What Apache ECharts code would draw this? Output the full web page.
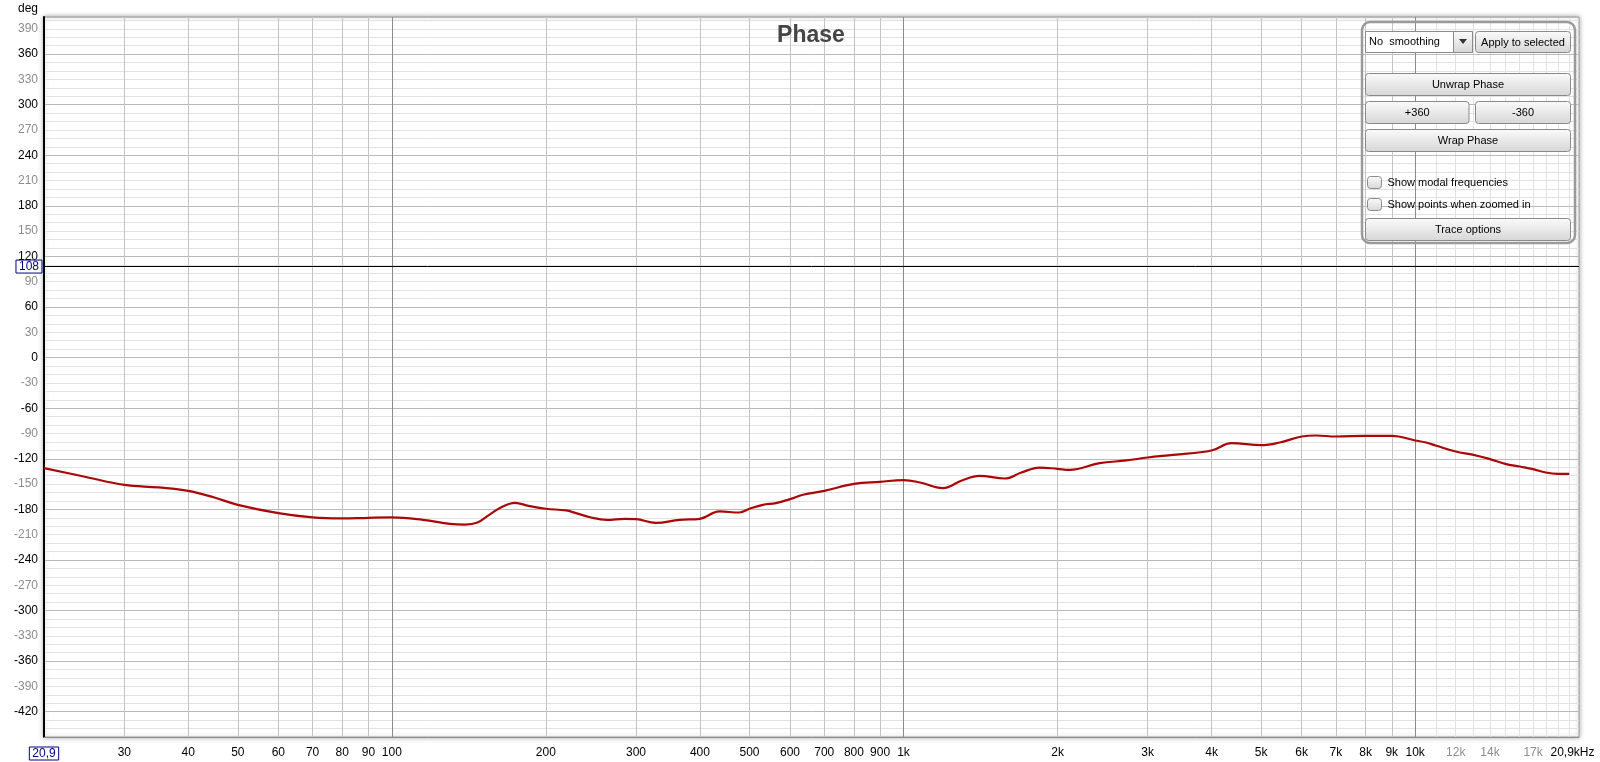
<!DOCTYPE html>
<html><head><meta charset="utf-8">
<script src="https://cdn.jsdelivr.net/npm/echarts@6/dist/echarts.min.js"></script>
<style>html,body{margin:0;padding:0;background:#fff;overflow:hidden}#c{width:1600px;height:762px}</style>
</head><body><div id="c"></div>
<script>
// ---- data ----
const freqs = [20.9, 25, 30, 35, 40, 45, 50, 60, 70, 80, 90, 100, 115, 130, 139, 147, 155, 163, 174, 185, 200, 219, 229, 245, 263, 285, 300, 328, 365, 400, 437, 478, 500, 531, 563, 600, 636, 700, 800, 900, 1000, 1077, 1194, 1300, 1408, 1576, 1700, 1844, 2000, 2110, 2416, 2727, 3000, 3365, 4000, 4375, 5000, 5434, 6000, 6409, 7000, 8000, 9000, 10000, 10500, 11000, 12000, 13000, 14000, 15000, 16000, 17000, 18000, 19000, 20000];
const phaseDeg = [-131, -141, -151, -154, -158, -166, -174.6, -184.5, -189.6, -190.8, -190, -189.6, -192.4, -197.2, -198, -195.6, -186.5, -178, -172.2, -175.8, -179.3, -181.3, -184.5, -189.6, -192.4, -191.2, -191.6, -196, -192.4, -191.2, -182.5, -183.7, -179.3, -174.6, -172.6, -167.9, -162.7, -158, -149.7, -147.3, -145.3, -148.1, -154.8, -145.7, -140.2, -143.4, -136.3, -130.4, -131.9, -133.1, -125.2, -122, -118.5, -115.3, -110.2, -101.4, -103.8, -100.7, -93.6, -92.4, -93.6, -92.8, -92.8, -98.3, -100.7, -104.6, -111.4, -115.3, -120.4, -126, -129.2, -132.3, -136.3, -137.8, -137.8];
const xTickValues = [20.9, 30, 40, 50, 60, 70, 80, 90, 100, 200, 300, 400, 500, 600, 700, 800, 900, 1000, 2000, 3000, 4000, 5000, 6000, 7000, 8000, 9000, 10000, 12000, 14000, 17000, 20900];
const xTickLabels = ['20,9', '30', '40', '50', '60', '70', '80', '90', '100', '200', '300', '400', '500', '600', '700', '800', '900', '1k', '2k', '3k', '4k', '5k', '6k', '7k', '8k', '9k', '10k', '12k', '14k', '17k', '20,9kHz'];
const fMin = 20.9, fMax = 20900;
const yMin = -450, yMax = 404;
const cursorDeg = 108;
const titleText = 'Phase';
const yUnit = 'deg';

// ---- grid line positions (ticks) ----
const xMinorGrid = [], xDecadeGrid = [100, 1000, 10000], xHighGrid = [];
for (let d = 10; d <= 1000; d *= 10) for (let k = 2; k <= 9; k++) { const v = k * d; if (v > fMin) xMinorGrid.push(v); }
for (let v = 11000; v <= 20000; v += 1000) xHighGrid.push(v);

const FONT = '"Liberation Sans", Arial, sans-serif';

function xLabel(v) {
  let idx = -1;
  for (let i = 0; i < xTickValues.length; i++) if (Math.abs(xTickValues[i] - v) / xTickValues[i] < 1e-6) idx = i;
  if (idx < 0) return '';
  const t = xTickLabels[idx];
  if (idx === 0) return '{cur|' + t + '}';
  if (idx === xTickValues.length - 1) return '{end|' + t + '}';
  if (v > 10000) return '{g|' + t + '}';
  return '{b|' + t + '}';
}
function yLabel(v) {
  if (v % 30 !== 0 || v <= yMin || v > 390) return '';
  return (v % 60 === 0 ? '{b|' : '{g|') + v + '}';
}
function logAxis(extra) {
  return Object.assign({
    type: 'log', logBase: 10, min: fMin, max: fMax, position: 'bottom',
    axisLine: { show: false, onZero: false }, axisTick: { show: false },
    axisLabel: { show: false }, splitLine: { show: false },
    minorTick: { show: false }, minorSplitLine: { show: false }
  }, extra);
}

const btnFill = { type: 'linear', x: 0, y: 0, x2: 0, y2: 1, colorStops: [{ offset: 0, color: '#fbfbfb' }, { offset: 1, color: '#d6d6d6' }] };
function button(x, y, w, h, text) {
  return { type: 'group', x: x, y: y, z: 100, children: [
    { type: 'rect', z: 100, shape: { x: 0, y: 0, width: w, height: h, r: 3 }, style: { fill: btnFill, stroke: '#8a8a8a', lineWidth: 1 } },
    { type: 'text', z: 101, style: { x: w / 2, y: h / 2 + 0.5, text: text, font: '11px ' + FONT, fill: '#000', align: 'center', verticalAlign: 'middle' } }
  ] };
}
function checkbox(x, y, text) {
  return { type: 'group', x: x, y: y, z: 100, children: [
    { type: 'rect', z: 100, shape: { x: 0, y: 0, width: 14, height: 12, r: 3 }, style: { fill: btnFill, stroke: '#8a8a8a', lineWidth: 1 } },
    { type: 'text', z: 101, style: { x: 20, y: 6, text: text, font: '11px ' + FONT, fill: '#000', align: 'left', verticalAlign: 'middle' } }
  ] };
}

const seriesData = freqs.map((f, i) => [f, phaseDeg[i]]);

const chart = echarts.init(document.getElementById('c'), null, { renderer: 'canvas' });
chart.setOption({
  animation: false,
  backgroundColor: '#fff',
  title: { text: titleText, left: 806, top: 19, textAlign: 'center',
    textStyle: { fontSize: 23, fontWeight: 'bold', color: '#454545', fontFamily: FONT } },
  grid: { left: 44, top: 17, right: 21, bottom: 25, show: true, backgroundColor: '#fff',
    borderColor: '#9c9c9c', borderWidth: 1, shadowColor: 'rgba(0,0,0,0.35)', shadowBlur: 5 },
  xAxis: [
    logAxis({ z: 1, axisTick: { show: false, customValues: xHighGrid }, splitLine: { show: true, lineStyle: { color: '#e2e2e2', width: 1 } } }),
    logAxis({ z: 2, axisTick: { show: false, customValues: xMinorGrid }, splitLine: { show: true, lineStyle: { color: '#c4c4c4', width: 1 } } }),
    logAxis({ z: 3, axisTick: { show: false, customValues: xDecadeGrid }, splitLine: { show: true, lineStyle: { color: '#8a8a8a', width: 1 } } }),
    logAxis({ z: 4, axisLine: { show: true, onZero: false, lineStyle: { color: '#8c8c8c', width: 1 } },
      axisLabel: { show: true, customValues: xTickValues, formatter: xLabel, margin: 10,
        rich: {
          b: { color: '#000', fontSize: 12, fontFamily: FONT },
          g: { color: '#8c8c8c', fontSize: 12, fontFamily: FONT },
          cur: { color: '#000080', fontSize: 12, fontFamily: FONT, borderColor: '#000080', borderWidth: 1, padding: [1, 3, 0, 3] },
          end: { color: '#000', fontSize: 12, fontFamily: FONT, padding: [0, 13, 0, 0] }
        } } })
  ],
  yAxis: [
    { type: 'value', min: yMin, max: yMax, interval: 10, z: 1, position: 'left',
      axisLine: { show: false, onZero: false }, axisTick: { show: false }, axisLabel: { show: false },
      splitLine: { show: true, lineStyle: { color: '#e2e2e2', width: 1 } } },
    { type: 'value', min: yMin, max: yMax, interval: 30, z: 2, position: 'left',
      name: yUnit, nameLocation: 'end', nameGap: 2,
      nameTextStyle: { align: 'right', verticalAlign: 'bottom', padding: [0, 6, 0, 0], fontSize: 12, color: '#000', fontFamily: FONT },
      axisLine: { show: true, onZero: false, lineStyle: { color: '#000', width: 2 } },
      axisTick: { show: false },
      axisLabel: { formatter: yLabel, margin: 6,
        rich: { b: { color: '#000', fontSize: 12, fontFamily: FONT }, g: { color: '#8c8c8c', fontSize: 12, fontFamily: FONT } } },
      splitLine: { show: true, lineStyle: { color: ['#e2e2e2', '#bababa'], width: 1 } } }
  ],
  series: [{
    type: 'line', xAxisIndex: 3, yAxisIndex: 1, data: seriesData, showSymbol: false, smooth: 0.4, z: 10,
    lineStyle: { color: '#aa0808', width: 2.2 },
    markLine: { silent: true, symbol: ['none', 'none'], animation: false,
      lineStyle: { color: '#000', width: 1, type: 'solid' },
      label: { show: true, position: 'start', distance: 2, formatter: p => String(p.value),
        color: '#000080', fontSize: 12, fontFamily: FONT, borderColor: '#000080', borderWidth: 1, padding: [1, 3, 0, 3] },
      emphasis: { disabled: true },
      data: [{ yAxis: cursorDeg }] }
  }],
  graphic: [
    { type: 'rect', z: 99, shape: { x: 1362, y: 22, width: 213, height: 221, r: 8 }, style: { fill: 'rgba(255,255,255,0)', stroke: '#9a9a9a', lineWidth: 2.5 } },
    { type: 'rect', z: 100, shape: { x: 1365.5, y: 31.5, width: 107, height: 21 }, style: { fill: '#fff', stroke: '#8a8a8a', lineWidth: 1 } },
    { type: 'text', z: 101, style: { x: 1369, y: 42, text: 'No  smoothing', font: '11px ' + FONT, fill: '#000', align: 'left', verticalAlign: 'middle' } },
    { type: 'rect', z: 101, shape: { x: 1453.5, y: 31.5, width: 19, height: 21 }, style: { fill: btnFill, stroke: '#8a8a8a', lineWidth: 1 } },
    { type: 'polygon', z: 102, shape: { points: [[1459, 39], [1467, 39], [1463, 44]] }, style: { fill: '#333' } },
    button(1475.5, 31.5, 95, 21, 'Apply to selected'),
    button(1365.5, 73.5, 205, 22, 'Unwrap Phase'),
    button(1365.5, 101.5, 103.5, 22, '+360'),
    button(1475.5, 101.5, 95, 22, '-360'),
    button(1365.5, 129.5, 205, 22, 'Wrap Phase'),
    checkbox(1367.5, 176.5, 'Show modal frequencies'),
    checkbox(1367.5, 198.5, 'Show points when zoomed in'),
    button(1365.5, 218.5, 205, 22, 'Trace options')
  ]
});
</script>
</body></html>
